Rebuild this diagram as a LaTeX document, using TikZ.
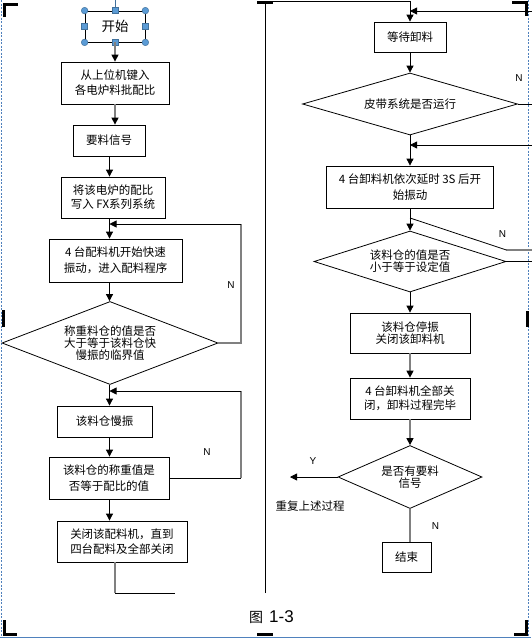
\documentclass[tikz,border=0pt]{standalone}
\usepackage{fontspec}
\setmainfont{Noto Sans CJK SC}
\newfontfamily\latinfont{Liberation Sans}
\usepackage{tikz}
\usetikzlibrary{arrows.meta, shapes.geometric}
\definecolor{LineGray}{RGB}{128,128,128}
\definecolor{PageBlue}{RGB}{79,129,189}
\definecolor{HandleBlue}{RGB}{91,155,213}
\definecolor{HandleEdge}{RGB}{65,113,156}
\newcommand{\flowtext}{\fontsize{11.5pt}{15pt}\selectfont}
\newcommand{\tighttext}{\fontsize{11.5pt}{12pt}\selectfont}
\tikzstyle{flowarrow} = [line width=0.8pt, black, -{Triangle[length=7pt, width=7pt]}]
\tikzstyle{grayarrow} = [line width=1.3pt, LineGray, -{Triangle[length=7pt, width=7pt, color=black]}]
\tikzset{
  box/.style={rectangle, draw=black, line width=0.8pt, inner sep=0pt, align=center, font=\flowtext},
  decision/.style={diamond, draw=black, line width=0.8pt, inner sep=0pt, align=center, font=\tighttext},
  link/.style={line width=0.8pt, black},
  graylink/.style={line width=1.3pt, LineGray},
  answer/.style={font=\latinfont\fontsize{10pt}{10pt}\selectfont, inner sep=0pt},
  crop/.style={line width=3pt, black},
  handle/.style={fill=HandleBlue, draw=HandleEdge, line width=0.5pt}
}

\begin{document}
\begin{tikzpicture}[x=1pt, y=-1pt]
\useasboundingbox (0,0) rectangle (531,638);

% Page frame
\draw[PageBlue, line width=0.8pt, dash pattern=on 2pt off 1.5pt] (1,0) -- (1,636);
\draw[PageBlue, line width=0.8pt, dash pattern=on 2pt off 1.5pt] (528.5,0) -- (528.5,636);
\draw[PageBlue, line width=1pt] (0,637.5) -- (531,637.5);

% Crop marks
\draw[crop] (4,17) -- (4,4) -- (18,4);
\draw[crop] (257,2.5) -- (273,2.5);
\draw[crop] (512,2.5) -- (526,2.5) -- (526,16);
\draw[crop] (3.5,310) -- (3.5,327);
\draw[crop] (527,311) -- (527,327);
\draw[crop] (4,620) -- (4,634) -- (17,634);
\draw[crop] (257,634.5) -- (273,634.5);
\draw[crop] (526,620) -- (526,634) -- (514,634);

% Left column
\node[box, minimum width=60pt, minimum height=31pt, font=\fontsize{13.5pt}{15pt}\selectfont] (start) at (115,26.5) {开始};
\node[box, minimum width=108pt, minimum height=42pt] (input) at (115,83) {从上位机键入\\各电炉料批配比};
\node[box, minimum width=72pt, minimum height=31pt] (signal) at (109,140.5) {要料信号};
\node[box, minimum width=104pt, minimum height=41pt, font=\fontsize{11.5pt}{14pt}\selectfont] (write) at (113,197.5) {将该电炉的配比\\写入 FX系列系统};
\node[box, minimum width=133pt, minimum height=43pt, font=\fontsize{11.5pt}{16pt}\selectfont] (fast) at (115.5,260.5) {4 台配料机开始快速\\振动，进入配料程序};
\node[decision, minimum width=216pt, minimum height=83pt, aspect=2.6] (crit) at (110,343) {称重料仓的值是否\\大于等于该料仓快\\慢振的临界值};
\node[box, minimum width=95pt, minimum height=31pt] (slow) at (104.5,421.5) {该料仓慢振};
\node[box, minimum width=120pt, minimum height=42pt, font=\fontsize{11.5pt}{16.5pt}\selectfont] (equal) at (109,478) {该料仓的称重值是\\否等于配比的值};
\node[box, minimum width=130pt, minimum height=41pt] (close) at (122,541.5) {关闭该配料机，直到\\四台配料及全部关闭};

% Selection handles
\coordinate (handleTop) at (115,0);
\draw[HandleEdge, line width=0.8pt] (handleTop) -- (start.north);
\draw[handle] (start.north west) circle (3.3pt) (start.north east) circle (3.3pt)
  (start.south west) circle (3.3pt) (start.south east) circle (3.3pt);
\draw[handle, shift={(start.north)}] (-3,-3) rectangle (3,3);
\draw[handle, shift={(start.south)}] (-3,-3) rectangle (3,3);
\draw[handle, shift={(start.west)}] (-3,-3) rectangle (3,3);
\draw[handle, shift={(start.east)}] (-3,-3) rectangle (3,3);

% Left connectors
\coordinate (spineL) at (109.5,0);
\draw[grayarrow] (start.south) -- (input.north);
\draw[grayarrow] (input.south) -- (input.south |- signal.north);
\draw[flowarrow] (signal.south -| spineL) -- (write.north -| spineL);
\draw[flowarrow] (write.south -| spineL) -- (fast.north -| spineL);
\draw[flowarrow] (fast.south -| spineL) -- (crit.north -| spineL);
\draw[flowarrow] (crit.south -| spineL) -- (slow.north -| spineL);
\draw[flowarrow] (slow.south -| spineL) -- (equal.north -| spineL);
\draw[flowarrow] (equal.south -| spineL) -- (close.north -| spineL);

% Left loops
\coordinate (loopA) at (241,224);
\coordinate (loopB) at (241,391);
\draw[graylink] (crit.east) -| (loopA);
\draw[flowarrow] (loopA) -- (loopA -| spineL);
\draw[link] (equal.east) -- (equal.east -| loopB);
\draw[graylink] (equal.east -| loopB) -- (loopB);
\draw[flowarrow] (loopB) -- (loopB -| spineL);
\node[answer] (nCrit) at (231,285) {N};
\node[answer] (nEqual) at (207,452) {N};

% Left exit
\coordinate (dropL) at (115,593);
\coordinate (contL) at (175,593);
\draw[graylink] (close.south -| dropL) -- (dropL);
\draw[link] (dropL) -- (contL);

% Right column
\node[box, minimum width=72pt, minimum height=30pt] (wait) at (410,37) {等待卸料};
\node[decision, minimum width=215pt, minimum height=62pt, aspect=3.4, font=\flowtext] (belt) at (410,104) {皮带系统是否运行};
\node[box, minimum width=167pt, minimum height=42pt, font=\fontsize{11.5pt}{16pt}\selectfont] (delay) at (410,187) {4 台卸料机依次延时 3S 后开\\始振动};
\node[decision, minimum width=192pt, minimum height=61pt, aspect=3.1] (level) at (410,261.5) {该料仓的值是否\\小于等于设定值};
\node[box, minimum width=120pt, minimum height=40pt, font=\tighttext] (stop) at (410,333) {该料仓停振\\关闭该卸料机};
\node[box, minimum width=120pt, minimum height=41pt, font=\fontsize{11.5pt}{14pt}\selectfont] (alloff) at (410,398.5) {4 台卸料机全部关\\闭，卸料过程完毕};
\node[decision, minimum width=144pt, minimum height=63pt, aspect=2.3] (again) at (410,477) {是否有要料\\信号};
\node[box, minimum width=49pt, minimum height=30pt] (endbox) at (406.5,557) {结束};
\node[inner sep=0pt, font=\flowtext] (repeat) at (310,506) {重复上述过程};

% Right connectors
\coordinate (spineR) at (410,0);
\coordinate (contR) at (265,593);
\coordinate (topR) at (410,1);
\draw[link] (contR) |- (topR);
\draw[flowarrow] (topR) -- (wait.north);
\draw[flowarrow] (wait.south) -- (belt.north);
\draw[flowarrow] (belt.south) -- (delay.north);
\draw[flowarrow] (delay.south) -- (level.north);
\draw[flowarrow] (level.south) -- (stop.north);
\draw[grayarrow] (stop.south) -- (alloff.north);
\draw[grayarrow] (alloff.south) -- (again.north);
\draw[graylink] (again.south) -- (again.south |- endbox.north);
\coordinate (repeatR) at (290,477);
\draw[flowarrow] (again.west) -- (repeatR);

% Right loops
\coordinate (edgeA) at (540,11);
\coordinate (edgeB) at (540,145);
\coordinate (edgeC) at (540,250);
\coordinate (kinkR) at (410,218);
\draw[link] (belt.east) -| (edgeA);
\draw[flowarrow] (edgeA) -- (edgeA -| spineR);
\draw[link] (level.east) -| (edgeB);
\draw[flowarrow] (edgeB) -- (edgeB -| spineR);
\draw[graylink] (edgeC) -- (edgeC -| level.east);
\draw[link] (edgeC -| level.east) -- (kinkR);
\node[answer] (nBelt) at (519,78) {N};
\node[answer] (nLevel) at (502.5,234) {N};
\node[answer] (yAgain) at (313,461) {Y};
\node[answer] (nAgain) at (435.5,526) {N};

% Caption
\node[inner sep=0pt] (caption) at (271.5,617) {\fontsize{14pt}{16pt}\selectfont 图\hspace{6pt}\latinfont\fontsize{17pt}{19pt}\selectfont 1-3};
\end{tikzpicture}
\end{document}
